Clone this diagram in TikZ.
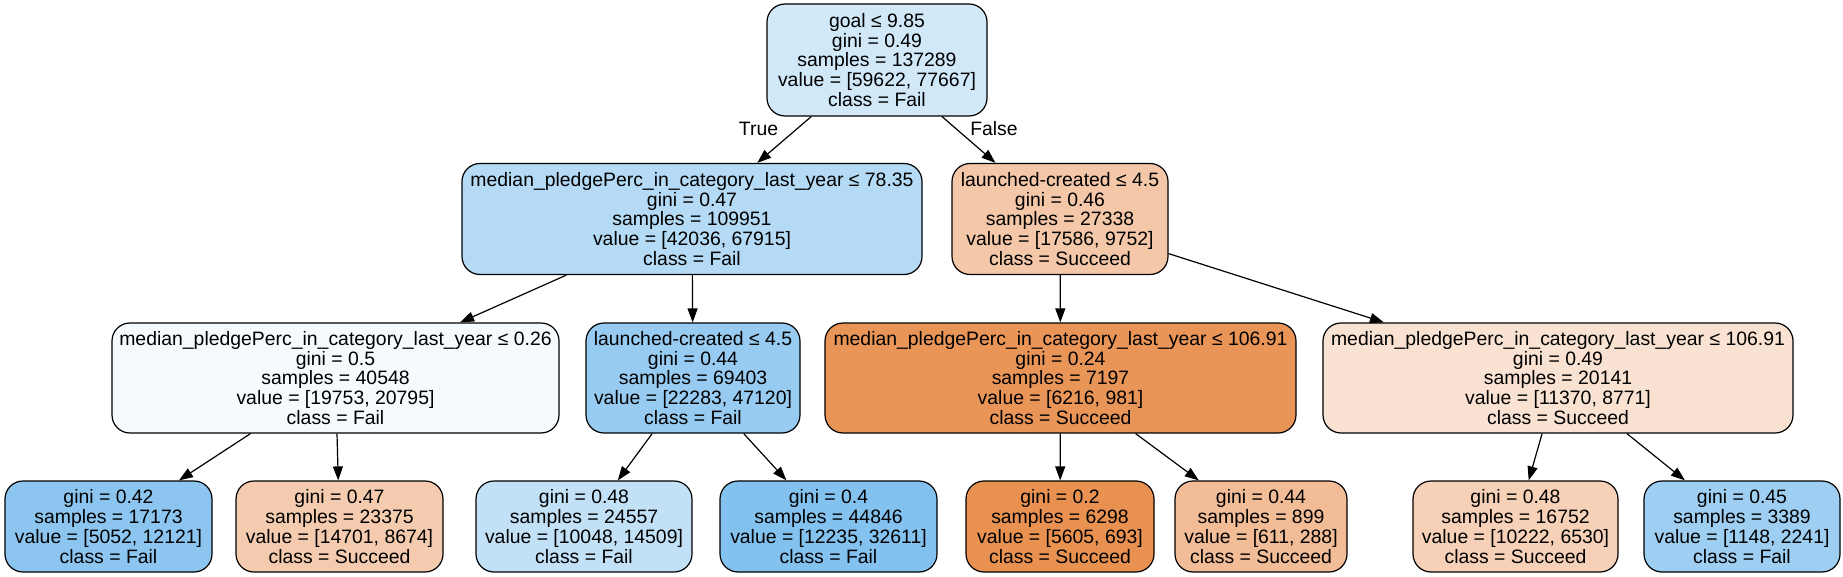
\documentclass[tikz,border=0pt]{standalone}
\usepackage{fontspec}
\setmainfont{Liberation Sans}
\usetikzlibrary{arrows.meta}
\definecolor{cRoot}{RGB}{209,232,249}
\definecolor{cLa}{RGB}{180,218,245}
\definecolor{cLb}{RGB}{243,199,167}
\definecolor{cA}{RGB}{245,250,254}
\definecolor{cB}{RGB}{151,203,241}
\definecolor{cC}{RGB}{233,149,88}
\definecolor{cD}{RGB}{249,226,210}
\definecolor{cLf}{RGB}{140,198,240}
\definecolor{cLg}{RGB}{244,203,174}
\definecolor{cLh}{RGB}{194,225,247}
\definecolor{cLi}{RGB}{131,194,239}
\definecolor{cLj}{RGB}{232,145,81}
\definecolor{cLk}{RGB}{241,188,150}
\definecolor{cLl}{RGB}{246,209,183}
\definecolor{cLm}{RGB}{158,207,242}
\begin{document}
\begin{tikzpicture}[x=1pt,y=-1pt,
  tn/.style={draw=black, line width=1.2pt, rounded corners=18pt, align=center, inner sep=0pt,
             font=\fontsize{19.4}{19.9}\selectfont},
  edge/.style={draw=black, line width=1.2pt, -{Triangle[length=14pt,width=10pt]}},
  lbl/.style={font=\fontsize{19.4}{19.9}\selectfont, inner sep=0pt}]
\useasboundingbox[fill=white] (0,0) rectangle (1843,577);
% root
\node[tn, fill=cRoot, minimum width=220pt, minimum height=112pt] (root) at (877,60)
  {goal ≤ 9.85\\gini = 0.49\\samples = 137289\\value = [59622, 77667]\\class = Fail};
% level 1
\node[tn, fill=cLa, minimum width=460pt, minimum height=111pt] (l1l) at (692,219)
  {median\_pledgePerc\_in\_category\_last\_year ≤ 78.35\\gini = 0.47\\samples = 109951\\value = [42036, 67915]\\class = Fail};
\node[tn, fill=cLb, minimum width=216pt, minimum height=111pt] (l1r) at (1060,219)
  {launched-created ≤ 4.5\\gini = 0.46\\samples = 27338\\value = [17586, 9752]\\class = Succeed};
% level 2
\node[tn, fill=cA, minimum width=447pt, minimum height=110pt] (a) at (335.5,378)
  {median\_pledgePerc\_in\_category\_last\_year ≤ 0.26\\gini = 0.5\\samples = 40548\\value = [19753, 20795]\\class = Fail};
\node[tn, fill=cB, minimum width=214pt, minimum height=110pt] (b) at (693,378)
  {launched-created ≤ 4.5\\gini = 0.44\\samples = 69403\\value = [22283, 47120]\\class = Fail};
\node[tn, fill=cC, minimum width=471pt, minimum height=110pt] (c) at (1060.5,378)
  {median\_pledgePerc\_in\_category\_last\_year ≤ 106.91\\gini = 0.24\\samples = 7197\\value = [6216, 981]\\class = Succeed};
\node[tn, fill=cD, minimum width=470pt, minimum height=110pt] (d) at (1558,378)
  {median\_pledgePerc\_in\_category\_last\_year ≤ 106.91\\gini = 0.49\\samples = 20141\\value = [11370, 8771]\\class = Succeed};
% level 3
\node[tn, fill=cLf, minimum width=207pt, minimum height=91pt] (f) at (108.5,526.5)
  {gini = 0.42\\samples = 17173\\value = [5052, 12121]\\class = Fail};
\node[tn, fill=cLg, minimum width=207pt, minimum height=91pt] (g) at (339.5,526.5)
  {gini = 0.47\\samples = 23375\\value = [14701, 8674]\\class = Succeed};
\node[tn, fill=cLh, minimum width=216pt, minimum height=91pt] (h) at (584,526.5)
  {gini = 0.48\\samples = 24557\\value = [10048, 14509]\\class = Fail};
\node[tn, fill=cLi, minimum width=217pt, minimum height=91pt] (i) at (828.5,526.5)
  {gini = 0.4\\samples = 44846\\value = [12235, 32611]\\class = Fail};
\node[tn, fill=cLj, minimum width=188pt, minimum height=91pt] (j) at (1060,526.5)
  {gini = 0.2\\samples = 6298\\value = [5605, 693]\\class = Succeed};
\node[tn, fill=cLk, minimum width=172pt, minimum height=91pt] (k) at (1261,526.5)
  {gini = 0.44\\samples = 899\\value = [611, 288]\\class = Succeed};
\node[tn, fill=cLl, minimum width=205pt, minimum height=91pt] (l) at (1515.5,526.5)
  {gini = 0.48\\samples = 16752\\value = [10222, 6530]\\class = Succeed};
\node[tn, fill=cLm, minimum width=196pt, minimum height=91pt] (m) at (1742,526.5)
  {gini = 0.45\\samples = 3389\\value = [1148, 2241]\\class = Fail};
% edges
\draw[edge] (root) -- (l1l);
\draw[edge] (root) -- (l1r);
\draw[edge] (l1l) -- (a);
\draw[edge] (l1l) -- (b);
\draw[edge] (l1r) -- (c);
\draw[edge] (l1r) -- (d);
\draw[edge] (a) -- (f);
\draw[edge] (a) -- (g);
\draw[edge] (b) -- (h);
\draw[edge] (b) -- (i);
\draw[edge] (c) -- (j);
\draw[edge] (c) -- (k);
\draw[edge] (d) -- (l);
\draw[edge] (d) -- (m);
% edge labels
\node[lbl] (ltrue) at (758.5,129) {True};
\node[lbl] (lfalse) at (994,129) {False};
\end{tikzpicture}
\end{document}
